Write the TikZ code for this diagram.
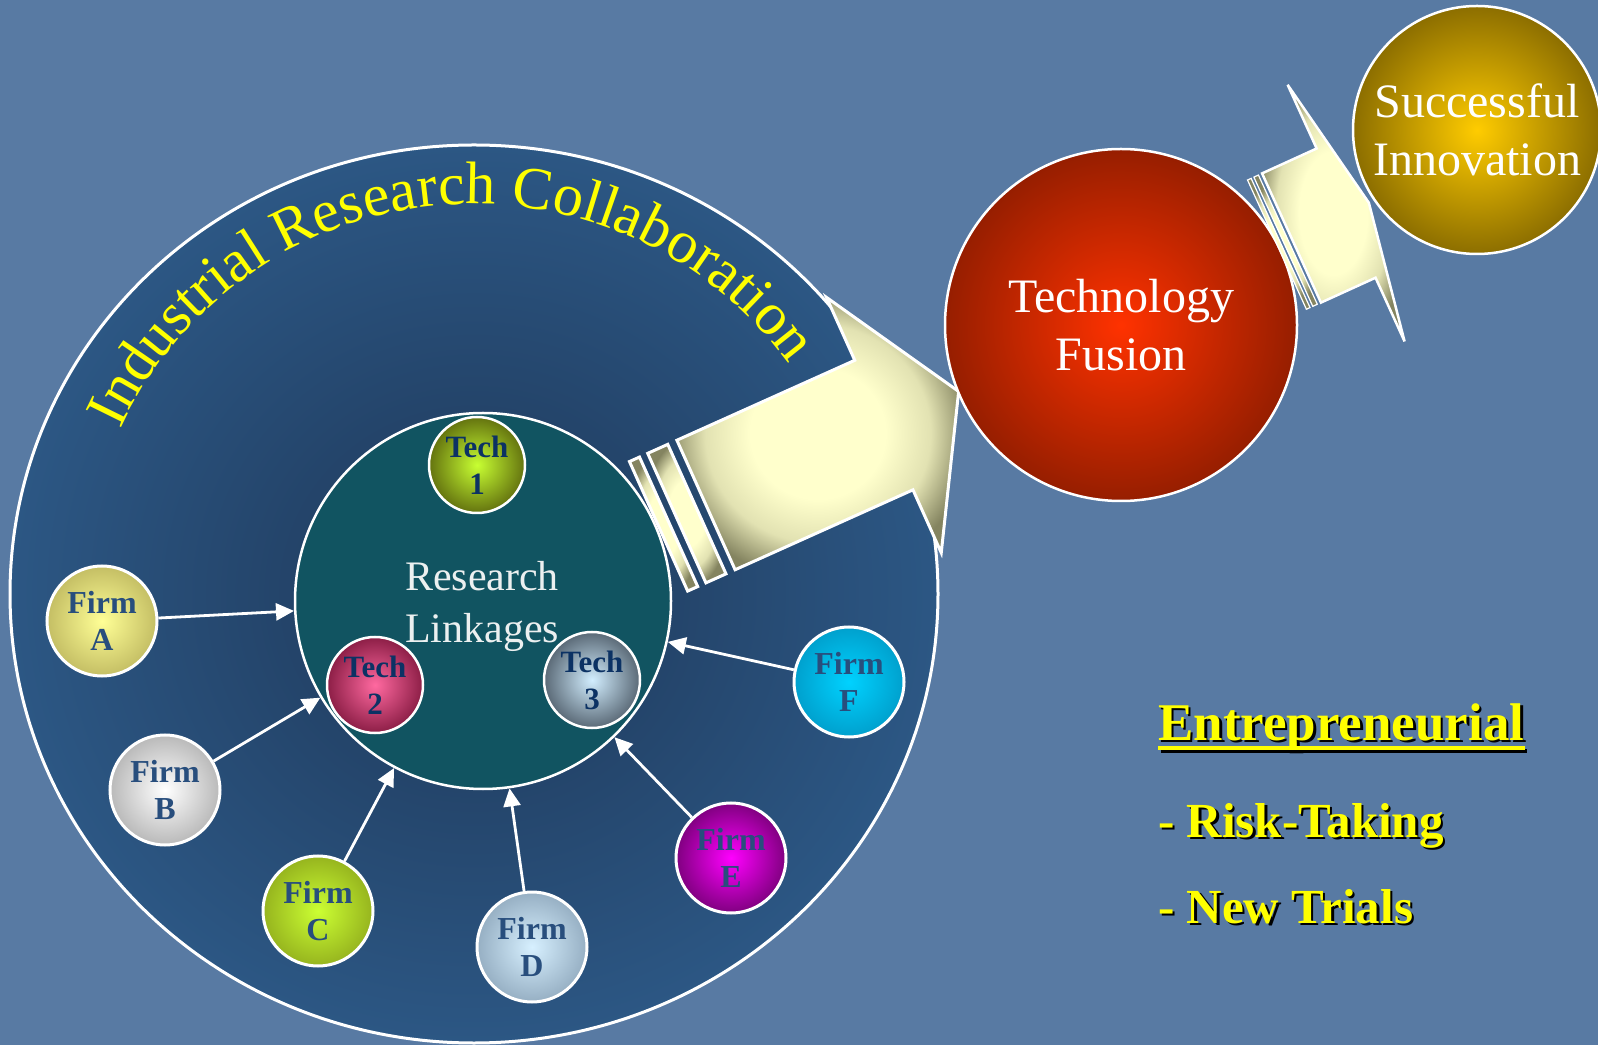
\documentclass[tikz,border=0pt]{standalone}
\usepackage{fontspec}
\setmainfont{Liberation Serif}
\usepackage{tikz}
\usetikzlibrary{arrows.meta,shapes.geometric,decorations.text}

\definecolor{bgblue}{RGB}{88,122,163}
\definecolor{ircin}{RGB}{30,55,88}
\definecolor{ircout}{RGB}{44,87,132}
\definecolor{linkfill}{RGB}{17,84,97}
\definecolor{linktext}{RGB}{236,240,240}
\definecolor{firmtext}{RGB}{40,78,125}
\definecolor{techtext}{RGB}{12,50,100}
\definecolor{banner}{RGB}{255,255,0}
\definecolor{arrowlight}{RGB}{255,255,204}
\definecolor{arrowmid}{RGB}{226,226,178}
\definecolor{arrowdark}{RGB}{132,132,96}
% firms
\definecolor{firmAin}{RGB}{255,255,150}\definecolor{firmAout}{RGB}{196,190,100}
\definecolor{firmBin}{RGB}{255,255,255}\definecolor{firmBout}{RGB}{185,185,185}
\definecolor{firmCin}{RGB}{204,255,51}\definecolor{firmCout}{RGB}{150,180,30}
\definecolor{firmDin}{RGB}{215,240,255}\definecolor{firmDout}{RGB}{150,175,195}
\definecolor{firmEin}{RGB}{255,0,255}\definecolor{firmEout}{RGB}{128,0,128}
\definecolor{firmFin}{RGB}{0,210,255}\definecolor{firmFout}{RGB}{0,160,205}
% technologies
\definecolor{techAin}{RGB}{200,255,50}\definecolor{techAout}{RGB}{100,115,15}
\definecolor{techBin}{RGB}{255,105,160}\definecolor{techBout}{RGB}{140,30,70}
\definecolor{techCin}{RGB}{210,238,255}\definecolor{techCout}{RGB}{90,105,118}
% outcomes
\definecolor{fusionin}{RGB}{255,50,0}\definecolor{fusionout}{RGB}{150,30,0}
\definecolor{successin}{RGB}{255,204,0}\definecolor{successout}{RGB}{140,110,0}

% glow of the block arrows
\pgfdeclareradialshading{arrowglow}{\pgfpoint{0bp}{0bp}}{%
  color(0bp)=(arrowlight); color(12bp)=(arrowlight); color(20bp)=(arrowmid);
  color(27bp)=(arrowdark); color(50bp)=(arrowdark)}

\newcommand{\dropshadowtext}[1]{\makebox[0pt][l]{\hspace{2.5pt}\raisebox{-2.5pt}{\color{black}#1}}#1}

\tikzset{
  every picture/.style = {
    x = 1pt,
    y = 1pt,
    >={Triangle[length=18pt, width=17pt]},
  }
  ,
  ball/.style 2 args = {
    circle,
    draw = white,
    line width = 3pt,
    inner color = #1,
    outer color = #2,
    align = center,
    inner sep = 0pt
  }
  , % firms round the linkages
  firm/.style 2 args = {
    ball = {#1}{#2},
    minimum size = 110pt,
    text = firmtext,
    font = \fontsize{32}{37.5}\selectfont\bfseries
  }
  , % technologies inside the linkages
  tech/.style 2 args = {
    ball = {#1}{#2},
    minimum size = 96pt,
    line width = 2.5pt,
    text = techtext,
    font = \fontsize{31}{37}\selectfont\bfseries
  }
  , % the two outcomes
  outcome/.style 2 args = {
    ball = {#1}{#2},
    line width = 2.5pt,
    text = white,
    font = \fontsize{48}{58}\selectfont
  }
  , % firm to linkage arrows
  feed/.style = {
    ->,
    white,
    line width = 2.8pt
  }
  , % block arrows
  block/.style = {
    draw = white,
    line width = 3pt,
    line join = miter,
    shading = arrowglow
  }
  , % list on the right
  listhead/.style = {
    anchor = base west,
    inner sep = 0pt,
    text = banner,
    font = \fontsize{53}{60}\selectfont\bfseries
  }
  ,
  listitem/.style = {
    listhead,
    font = \fontsize{49}{58}\selectfont\bfseries
  }
}

\begin{document}
\begin{tikzpicture}
    \useasboundingbox (0,0) rectangle (1598,1045);
    \fill[bgblue] (0,0) rectangle (1598,1045);

    % collaboration area
    \node[ellipse, draw=white, line width=3pt, inner color=ircin, outer color=ircout,
          minimum width=928pt, minimum height=898pt] (irc) at (474,451) {};
    \path[decorate, decoration={text along path, text align=center, text color=banner,
          text={|\fontsize{60}{72}\selectfont|Industrial Research Collaboration}}]
          (474,451) ++(160.65:390) arc[start angle=160.65, end angle=30.65, radius=390];

    \node[circle, draw=white, line width=2.5pt, fill=linkfill, minimum size=376pt] (link) at (483,444) {};
    \node[tech={techAin}{techAout}] (tech1) at (477,580) {Tech\\1};
    \node[tech={techBin}{techBout}] (tech2) at (375,360) {Tech\\2};
    \node[tech={techCin}{techCout}] (tech3) at (592,365) {Tech\\3};
    \node[align=center, text=linktext, font=\fontsize{42}{52}\selectfont] (linklabel) at (482,439) {Research\\Linkages};

    \node[firm={firmAin}{firmAout}] (firmA) at (102,424) {Firm\\A};
    \node[firm={firmBin}{firmBout}] (firmB) at (165,255) {Firm\\B};
    \node[firm={firmCin}{firmCout}] (firmC) at (318,134) {Firm\\C};
    \node[firm={firmDin}{firmDout}] (firmD) at (532,98) {Firm\\D};
    \node[firm={firmEin}{firmEout}] (firmE) at (731,187) {Firm\\E};
    \node[firm={firmFin}{firmFout}] (firmF) at (849,363) {Firm\\F};

    \path[feed] (firmA) edge (link)
                (firmB) edge (link)
                (firmC) edge (link)
                (firmD) edge (link)
                (firmE) edge (link)
                (firmF) edge (link);

    % big arrow to the fusion
    \begin{scope}[shift={(706,540)}, rotate=24.2]
      \draw[block] (-52,-71) -- (-41,-71) -- (-41,71) -- (-52,71) -- cycle;
      \draw[block] (-32,-71) -- (-10,-71) -- (-10,71) -- (-32,71) -- cycle;
      \draw[block] (0,-71) -- (195,-71) -- (195,-140) -- (277,0) -- (195,140) -- (195,71) -- (0,71) -- cycle;
    \end{scope}

    \node[outcome={fusionin}{fusionout}, minimum size=352pt] (fusion) at (1121,720) {Technology\\Fusion};

    % small arrow to the innovation
    \begin{scope}[shift={(1291.5,807)}, rotate=24.5]
      \draw[block, line width=1.2pt] (-16,-71) -- (-12,-71) -- (-12,71) -- (-16,71) -- cycle;
      \draw[block, line width=1.2pt] (-9,-71) -- (-4,-71) -- (-4,71) -- (-9,71) -- cycle;
      \draw[block, line width=2.5pt] (0,-71) -- (60,-71) -- (60,-141) -- (85,0) -- (60,141) -- (60,71) -- (0,71) -- cycle;
    \end{scope}

    \node[outcome={successin}{successout}, minimum size=248pt] (success) at (1477,915) {Successful\\Innovation};

    % entrepreneurial list
    \node[listhead] (entre) at (1158,305) {\dropshadowtext{Entrepreneurial}};
    \fill[black] ([shift={(2.5,-8.5)}]entre.base west) rectangle ([shift={(2.5,-12.5)}]entre.base east);
    \fill[banner] ([yshift=-6pt]entre.base west) rectangle ([yshift=-10pt]entre.base east);
    \node[listitem] (risk) at (1158,208) {\dropshadowtext{- Risk-Taking}};
    \node[listitem] (trials) at (1158,122) {\dropshadowtext{- New Trials}};
\end{tikzpicture}
\end{document}
